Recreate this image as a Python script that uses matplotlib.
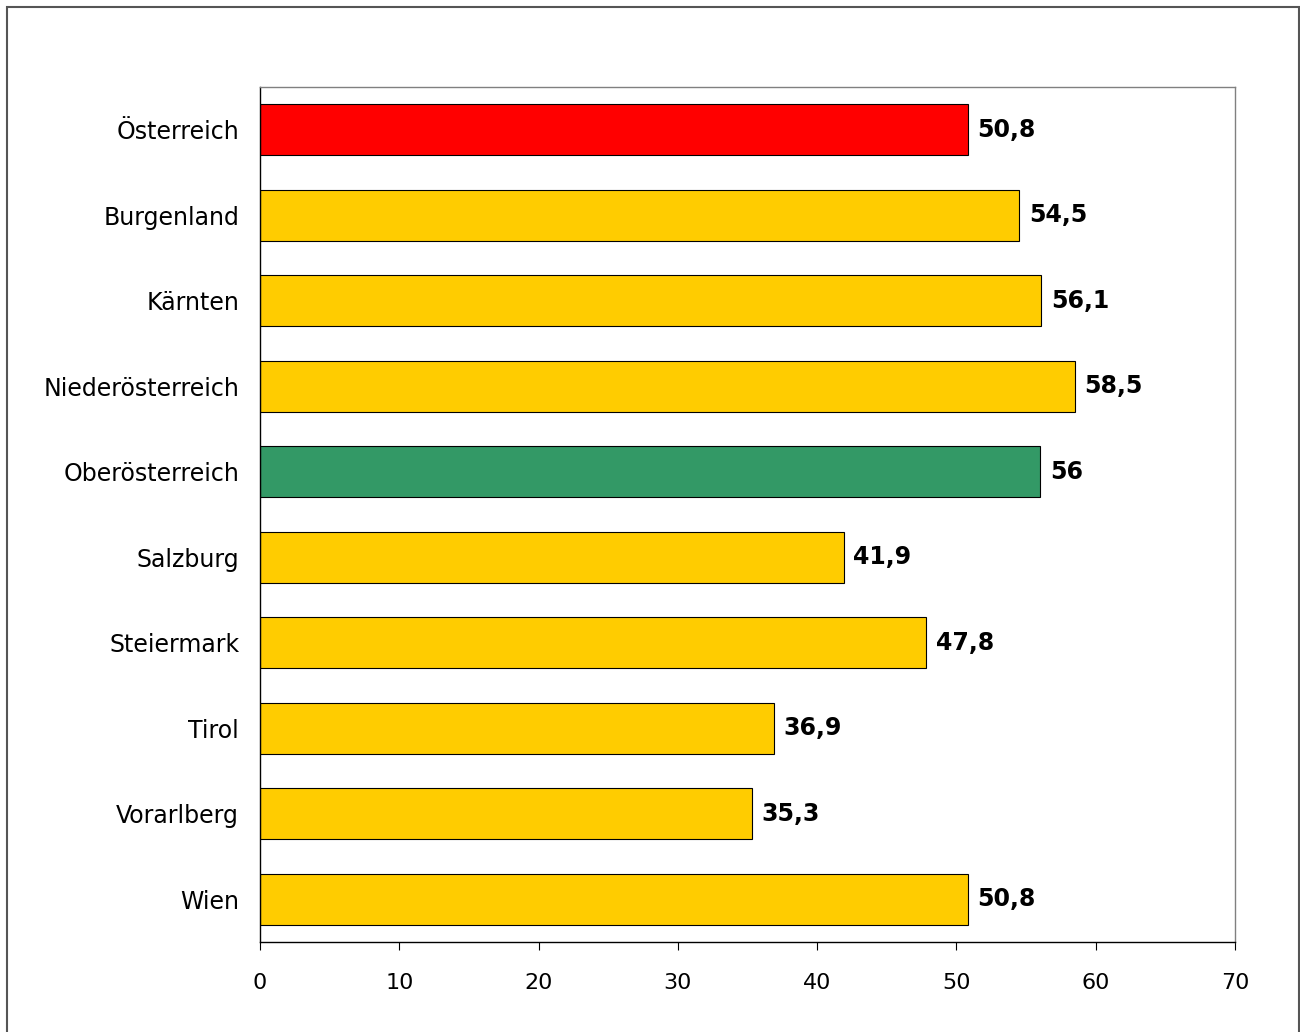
import matplotlib.pyplot as plt

regions = ['Österreich', 'Burgenland', 'Kärnten', 'Niederösterreich', 'Oberösterreich',
           'Salzburg', 'Steiermark', 'Tirol', 'Vorarlberg', 'Wien']
values = [50.8, 54.5, 56.1, 58.5, 56.0, 41.9, 47.8, 36.9, 35.3, 50.8]
value_labels = ['50,8', '54,5', '56,1', '58,5', '56', '41,9', '47,8', '36,9', '35,3', '50,8']
colors = ['#FF0000', '#FFCC00', '#FFCC00', '#FFCC00', '#339966',
          '#FFCC00', '#FFCC00', '#FFCC00', '#FFCC00', '#FFCC00']

plt.rcParams['font.family'] = ['DejaVu Sans']

fig = plt.figure(figsize=(13, 10.32), dpi=100)
ax = fig.add_axes([0.2, 0.0872, 0.75, 0.8285])

# outer frame
fig.patches.append(plt.Rectangle((0.005, -0.01), 0.994, 1.003, transform=fig.transFigure,
                                 fill=False, edgecolor='#555555', linewidth=1.5))

y = range(len(regions))
ax.barh(y, values, height=0.6, color=colors, edgecolor='black', linewidth=0.8)

for i, (v, lab) in enumerate(zip(values, value_labels)):
    ax.text(v + 0.7, i, lab, va='center', ha='left', fontsize=17, fontweight='bold')

ax.set_xlim(0, 70)
ax.set_ylim(len(regions) - 0.5, -0.5)
ax.set_yticks(list(y))
ax.set_yticklabels(regions, fontsize=17)
ax.set_xticks(range(0, 71, 10))
ax.tick_params(axis='x', labelsize=16, length=6, direction='out', pad=16)
ax.tick_params(axis='y', length=0, pad=15)

ax.spines['top'].set_color('#808080')
ax.spines['right'].set_color('#808080')
ax.spines['left'].set_color('black')
ax.spines['bottom'].set_color('black')
for s in ax.spines.values():
    s.set_linewidth(1)

fig.savefig('out.png', dpi=100)
